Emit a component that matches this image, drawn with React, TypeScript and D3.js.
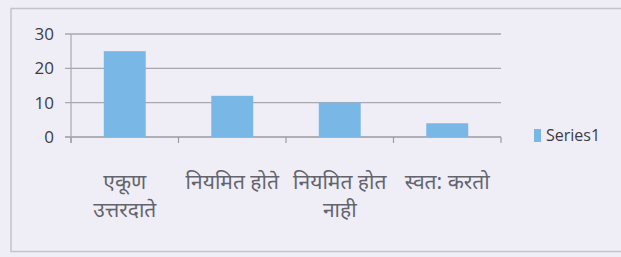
import React from "react";
import * as d3 from "d3";

const categories = [["एकूण", "उत्तरदाते"], ["नियमित होते"], ["नियमित होत", "नाही"], ["स्वत: करतो"]];
const values = [25, 12, 10, 4];
const yTicks = [0, 10, 20, 30];
const seriesName = "Series1";

export default function App() {
  const W = 621, H = 257;
  const x0 = 71, x1 = 501, yTop = 34, yBot = 137;
  const x = d3.scaleBand<number>().domain(d3.range(categories.length)).range([x0, x1]).paddingInner(0.61).paddingOuter(0.305);
  const xb = d3.scaleBand<number>().domain(d3.range(categories.length)).range([x0, x1]);
  const y = d3.scaleLinear().domain([0, 30]).range([yBot, yTop]);
  const font = "'Open Sans', 'Noto Sans', sans-serif";
  return (
    <svg width={W} height={H} style={{ position: "absolute", left: 0, top: 0 }}>
      <rect x={0} y={0} width={W} height={H} fill="#efeef7" />
      <rect x={11} y={8.5} width={W} height={243} fill="none" stroke="#c4c3cc" strokeWidth={1.5} />
      {yTicks.map((t) => (
        <g key={t}>
          <line x1={65} x2={x1} y1={y(t)} y2={y(t)} stroke={t === 0 ? "#9a9aa0" : "#a8a8ae"} strokeWidth={1.3} />
          <text x={54} y={y(t) + 6} textAnchor="end" fontFamily={font} fontSize={17} fill="#3c3c44">{t}</text>
        </g>
      ))}
      <line x1={x0} x2={x0} y1={yTop} y2={yBot + 6} stroke="#a8a8ae" strokeWidth={1.2} />
      {d3.range(categories.length + 1).map((i) => {
        const px = i < categories.length ? xb(i)! : x1;
        return <line key={i} x1={px} x2={px} y1={yBot} y2={yBot + 6} stroke="#9a9aa0" strokeWidth={1.2} />;
      })}
      {values.map((v, i) => (
        <rect key={i} x={x(i)} y={y(v)} width={x.bandwidth()} height={yBot - y(v)} fill="#78b7e6" />
      ))}
      {categories.map((lines, i) => (
        <text key={i} textAnchor="middle" fontFamily="'Noto Sans', sans-serif" fontSize={21} fill="#64646c">
          {lines.map((l, j) => (
            <tspan key={j} x={xb(i)! + xb.bandwidth() / 2} y={189 + j * 28}>{l}</tspan>
          ))}
        </text>
      ))}
      <rect x={534} y={129} width={7} height={13} fill="#78b7e6" />
      <text x={546} y={141} fontFamily={font} fontSize={16} fill="#3c3c44">{seriesName}</text>
    </svg>
  );
}
